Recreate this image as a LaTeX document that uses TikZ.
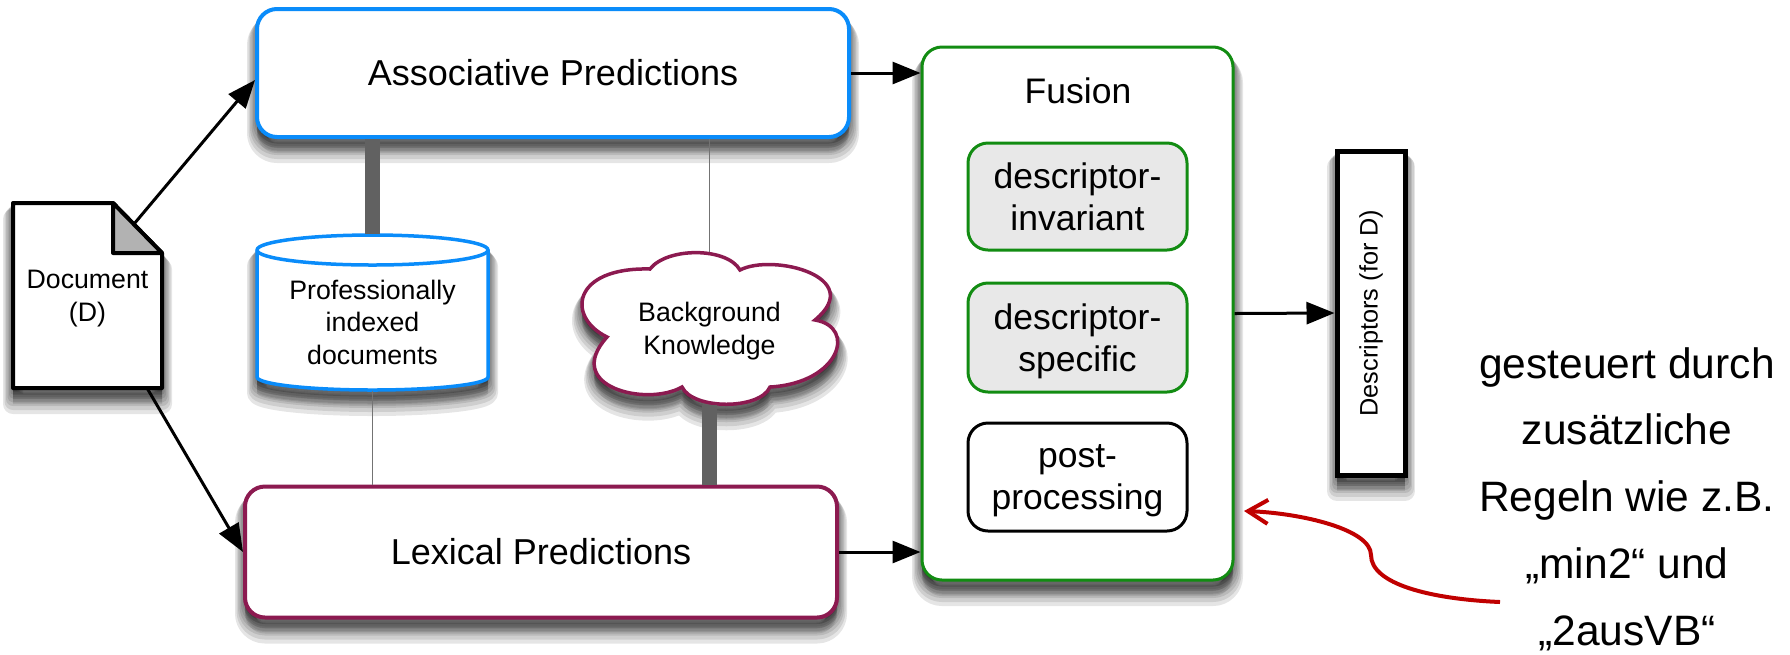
\documentclass[tikz,border=0pt]{standalone}
\usepackage{fontspec}
\setmainfont{Liberation Sans}
\usetikzlibrary{shapes.geometric,arrows.meta,positioning,calc}
\definecolor{assocblue}{HTML}{0A8CFA}
\definecolor{lexmaroon}{HTML}{8C1A50}
\definecolor{fusegreen}{HTML}{128C12}
\definecolor{rulered}{HTML}{C00000}
\tikzset{
  shadowring/.style 2 args={preaction={draw=black,fill=black,opacity=.1,line width=#1,line join=round,transform canvas={yshift=-#2}}},
  softshadow/.style={shadowring={.20cm}{.16cm},shadowring={.17cm}{.135cm},shadowring={.14cm}{.11cm},shadowring={.11cm}{.09cm},shadowring={.08cm}{.065cm},shadowring={.05cm}{.04cm},shadowring={.02cm}{.02cm}},
  predbox/.style={draw,line width=.04cm,rounded corners=.2cm,fill=white,softshadow,font=\fontsize{10.25}{12}\selectfont},
  fusebox/.style={draw=fusegreen,line width=.03cm,rounded corners=.2cm,fill=#1,minimum width=2.19cm,align=center,text depth=0pt,font=\fontsize{10.1}{12}\selectfont},
  flow/.style={line width=.03cm,-{Triangle[length=.28cm,width=.22cm]}},
  heavylink/.style={line width=.145cm,draw=black!62},
  thinlink/.style={line width=.01cm,draw=black!55},
  smalltext/.style={align=center,text depth=0pt,font=\fontsize{7.6}{9.3}\selectfont}
}
\begin{document}
\begin{tikzpicture}
\useasboundingbox (0,0) rectangle (17.9,6.54);

% Prediction boxes
\node[predbox,draw=assocblue,minimum width=5.92cm,minimum height=1.28cm] (assoc) at (5.53,5.81) {Associative Predictions};
\node[predbox,draw=lexmaroon,minimum width=5.92cm,minimum height=1.31cm] (lexical) at (5.41,1.02) {Lexical Predictions};

% Database
\draw[draw=assocblue,line width=.035cm,fill=white,softshadow] (2.57,4.04)
  arc[start angle=180,end angle=0,x radius=1.155,y radius=.15] -- (4.88,2.77)
  arc[start angle=0,end angle=-180,x radius=1.155,y radius=.13] -- cycle;
\draw[draw=assocblue,line width=.035cm] (2.57,4.04) arc[start angle=180,end angle=360,x radius=1.155,y radius=.15];
\node[minimum width=2.31cm,minimum height=1.55cm] (profdocs) at (3.725,3.415) {};
\node[smalltext] (profdocstext) at (3.725,3.32) {Professionally\\indexed\\documents};

% Cloud
\draw[draw=lexmaroon,line width=.035cm,fill=white,softshadow] (6.50,3.85)
  .. controls (6.67,4.07) and (7.27,4.07) .. (7.40,3.84)
  .. controls (7.73,4.01) and (8.67,3.77) .. (8.15,3.34)
  .. controls (8.57,3.27) and (8.40,2.71) .. (7.70,2.67)
  .. controls (7.60,2.44) and (6.93,2.44) .. (6.82,2.67)
  .. controls (6.47,2.47) and (5.62,2.67) .. (6.07,3.17)
  .. controls (5.66,3.37) and (5.72,3.87) .. cycle;
\node[smalltext,minimum width=2.57cm,minimum height=1.51cm] (bgknow) at (7.095,3.255) {Background\\Knowledge};

% Links between boxes
\draw[heavylink] (profdocs.north |- assoc.south) -- (profdocs.north);
\draw[heavylink] (bgknow.south) -- (bgknow.south |- lexical.north);
\draw[thinlink] (bgknow.north |- assoc.south) -- (bgknow.north);
\draw[thinlink] (profdocs.south) -- (profdocs.south |- lexical.north);

% Document
\coordinate (docup) at (1.34,4.30);
\coordinate (docdown) at (1.47,2.66);
\draw[flow] (docup) -- ([yshift=-.07cm]assoc.west);
\draw[flow] (docdown) -- (lexical.west);
\draw[line width=.04cm,line join=round,fill=white,softshadow] (.13,4.51) -- (1.13,4.51) -- (1.62,4.01) -- (1.62,2.66) -- (.13,2.66) -- cycle;
\draw[line width=.04cm,line join=round,fill=black!30] (1.13,4.51) -- (1.13,4.01) -- (1.62,4.01) -- cycle;
\node[smalltext,minimum width=1.49cm] (doc) at (.875,3.58) {Document\\(D)};

% Fusion
\node[predbox,draw=fusegreen,line width=.03cm,minimum width=3.11cm,minimum height=5.33cm] (fusion) at (10.775,3.405) {};
\node[font=\fontsize{10.1}{12}\selectfont] (fusionlabel) at (10.78,5.63) {Fusion};
\node[fusebox=black!9,minimum height=1.07cm] (invariant) at (10.775,4.575) {descriptor-\\invariant};
\node[fusebox=black!9,minimum height=1.09cm] (specific) at (10.775,3.165) {descriptor-\\specific};
\node[fusebox=white,draw=black,minimum height=1.08cm] (postproc) at (10.775,1.77) {post-\\processing};

% Descriptors
\node[draw,line width=.05cm,fill=white,softshadow,minimum width=3.24cm,minimum height=.68cm,rotate=90,font=\fontsize{7.2}{8}\selectfont] (descr) at (13.71,3.41) {Descriptors (for D)};

\draw[flow] (assoc.east) -- (assoc.east -| fusion.west);
\draw[flow] (lexical.east) -- (lexical.east -| fusion.west);
\draw[flow] (fusion.east) -- (descr.north);

% Rules
\node[align=center,inner sep=0pt,font=\fontsize{12.1}{19}\selectfont] (rules) at (16.27,1.55) {gesteuert durch\\zusätzliche\\Regeln wie z.B.\\„min2“ und\\„2ausVB“};
\coordinate (rulefrom) at (15.00,.52);
\coordinate (ruleto) at (12.44,1.43);
\draw[draw=rulered,line width=.04cm,-{Straight Barb[length=.2cm,width=.24cm]}] (rulefrom)
  .. controls (14.3,.55) and (13.71,.7) .. (13.71,.99)
  .. controls (13.71,1.25) and (13.0,1.41) .. (ruleto);

\end{tikzpicture}
\end{document}
